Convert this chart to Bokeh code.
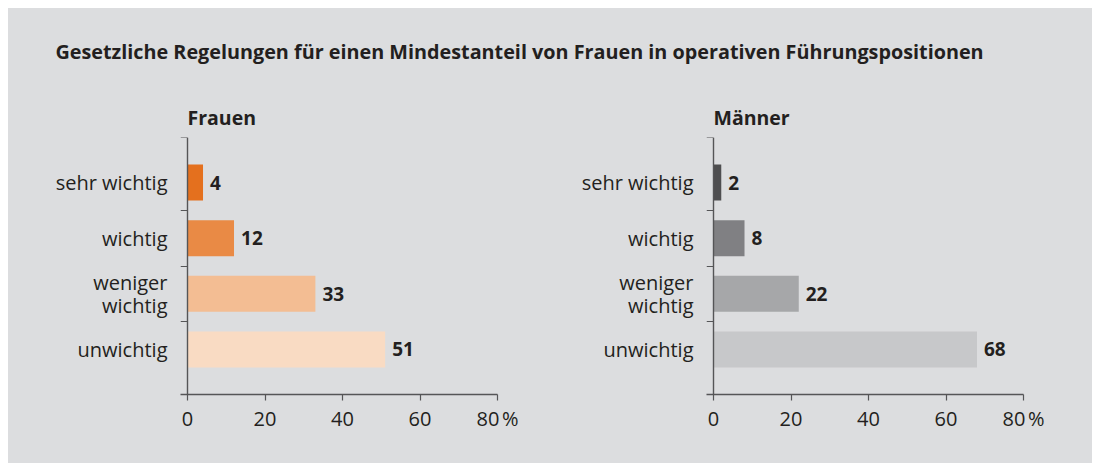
from bokeh.plotting import figure
from bokeh.models import FixedTicker, LinearAxis, Label, ColumnDataSource
from bokeh.layouts import column, row
from bokeh.embed import file_html
from bokeh.resources import INLINE
from bokeh.core.properties import value

# ---- data ----
title_text = "Gesetzliche Regelungen für einen Mindestanteil von Frauen in operativen Führungspositionen"
categories = ["sehr wichtig", "wichtig", "weniger wichtig", "unwichtig"]
category_labels = ["sehr wichtig", "wichtig", "weniger\nwichtig", "unwichtig"]
positions = [3, 2, 1, 0]
frauen = [4, 12, 33, 51]
maenner = [2, 8, 22, 68]
frauen_colors = ["#E4701E", "#E98A45", "#F3BD93", "#F9DBC3"]
maenner_colors = ["#4E4E50", "#808083", "#A6A7A9", "#C7C8CA"]
x_ticks = [0, 20, 40, 60, 80]
x_tick_labels = {80: "80\u202f%"}

BG = "#DCDDDF"
FONT = "Open Sans"
TXT = "#231F20"
AXC = "#555557"

Y_LO, Y_HI = -0.81, 3.81


def panel(name, vals, colors, width, left_border, right_border):
    p = figure(width=width, height=389, output_backend="svg", toolbar_location=None,
               x_range=(-1.81, 80), y_range=(Y_LO, Y_HI),
               min_border_left=left_border, min_border_right=right_border,
               min_border_top=63, min_border_bottom=69,
               background_fill_color=BG, border_fill_color=BG,
               outline_line_color=None, y_axis_type=None, title=name,
               styles={"background-color": BG})
    p.title.text_font = FONT
    p.title.text_font_size = "19.5px"
    p.title.text_font_style = "bold"
    p.title.text_color = TXT
    p.title.align = "left"
    p.title.offset = 7
    p.title.standoff = 14
    p.grid.visible = False

    src = ColumnDataSource(dict(y=positions, v=vals, c=colors,
                                lab=[str(v) for v in vals]))
    p.hbar(y="y", left=0, right="v", height=0.646, fill_color="c",
           line_color=None, source=src)
    p.text(x="v", y="y", text="lab", source=src, x_offset=7,
           text_baseline="middle", text_align="left",
           text_font=value(FONT), text_font_style="bold",
           text_font_size="19px", text_color=TXT)

    xa = p.xaxis[0]
    xa.ticker = FixedTicker(ticks=x_ticks)
    xa.major_label_overrides = x_tick_labels
    xa.major_label_text_font = FONT
    xa.major_label_text_font_size = "20px"
    xa.major_label_text_color = TXT
    xa.axis_line_color = AXC
    xa.axis_line_width = 1.4
    xa.major_tick_line_color = AXC
    xa.major_tick_line_width = 1.2
    xa.major_tick_in = 0
    xa.major_tick_out = 6
    xa.minor_tick_line_color = None
    xa.major_label_standoff = 4

    # vertical axis line at x=0 with separator ticks
    ya = LinearAxis(ticker=FixedTicker(ticks=[0.5, 1.5, 2.5, Y_HI]),
                    fixed_location=0, major_label_text_font_size="0px",
                    major_label_text_color=None,
                    axis_line_color=AXC, axis_line_width=1.4,
                    major_tick_line_color=AXC, major_tick_line_width=1.2,
                    major_tick_in=0, major_tick_out=7,
                    minor_tick_line_color=None)
    p.add_layout(ya, "left")
    # category labels
    yl = LinearAxis(ticker=FixedTicker(ticks=positions),
                    major_label_overrides={pos: lab for pos, lab in zip(positions, category_labels)},
                    axis_line_color=None,
                    major_tick_line_color=None, minor_tick_line_color=None,
                    major_tick_in=0, major_tick_out=0,
                    major_label_standoff=13,
                    major_label_text_font=FONT, major_label_text_font_size="20px",
                    major_label_text_line_height=0.85,
                    major_label_text_color=TXT)
    p.add_layout(yl, "left")
    return p


head = figure(width=1084, height=66, output_backend="svg", toolbar_location=None,
              x_range=(0, 1), y_range=(0, 1), min_border=0,
              x_axis_type=None, y_axis_type=None,
              background_fill_color=BG, border_fill_color=BG, outline_line_color=None,
              styles={"background-color": BG})
head.grid.visible = False
head.add_layout(Label(x=47, y=23, x_units="screen", y_units="screen", text=title_text,
                      text_font=FONT, text_font_size="19.8px", text_font_style="bold",
                      text_color=TXT, text_baseline="alphabetic"))

left = panel("Frauen", frauen, frauen_colors, 542, 172, 53)
right = panel("Männer", maenner, maenner_colors, 542, 156, 69)

layout = column(head, row(left, right, spacing=0, styles={"background-color": BG}),
                spacing=0,
                styles={"background-color": BG, "margin-left": "8px", "margin-top": "8px"})
open("out.html", "w").write(file_html(layout, INLINE))
